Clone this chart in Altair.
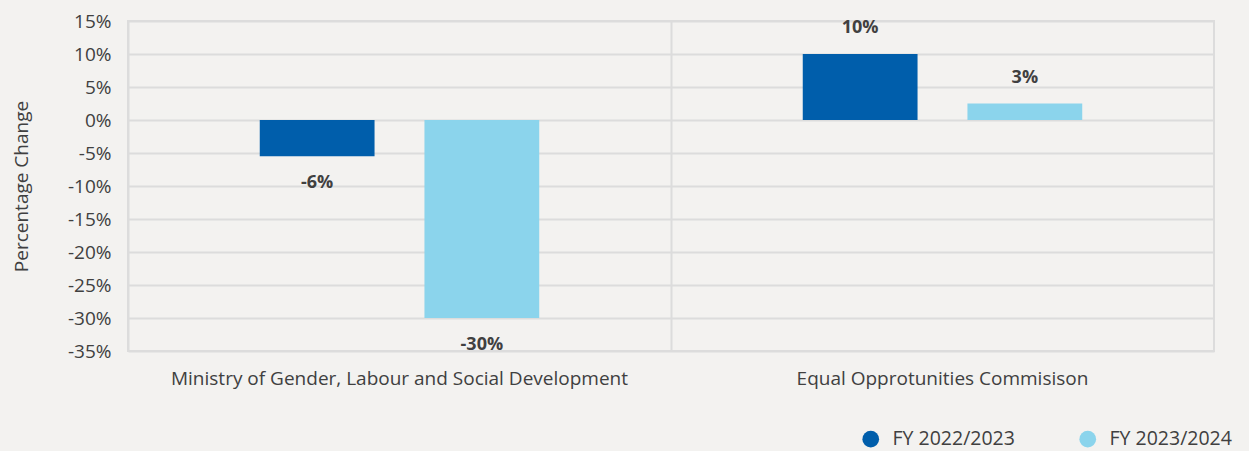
import altair as alt
import pandas as pd

categories = ["Ministry of Gender, Labour and Social Development", "Equal Opprotunities Commisison"]
series = ["FY 2022/2023", "FY 2023/2024"]
fy2223 = [-5.5, 10.0]
fy2324 = [-30.0, 2.5]
labels_2223 = ["-6%", "10%"]
labels_2324 = ["-30%", "3%"]
colors = ["#005EAB", "#8BD4EC"]

rows = []
for i, c in enumerate(categories):
    rows.append({"cat": c, "series": series[0], "value": fy2223[i], "label": labels_2223[i]})
    rows.append({"cat": c, "series": series[1], "value": fy2324[i], "label": labels_2324[i]})
df = pd.DataFrame(rows)

FONT = "Open Sans"
TXT = "#404040"

x = alt.X("cat:N", sort=categories, title=None,
          scale=alt.Scale(paddingInner=0, paddingOuter=0),
          axis=alt.Axis(labelAngle=0, labelFontSize=19, labelColor=TXT, labelFont=FONT,
                        labelPadding=18, ticks=False, domain=False,
                        grid=True, gridColor="#dcdcdc", gridWidth=2, bandPosition=0,
                        labelLimit=700))
xoff = alt.XOffset("series:N", sort=series,
                   scale=alt.Scale(paddingInner=0.303, paddingOuter=0.8))
y = alt.Y("value:Q", title="Percentage Change",
          scale=alt.Scale(domain=[-35, 15], nice=False),
          axis=alt.Axis(values=list(range(-35, 20, 5)), labelExpr="datum.value + '%'",
                        labelOverlap=False, tickCount=11,
                        labelFontSize=19, labelColor=TXT, labelFont=FONT, labelPadding=17,
                        ticks=False, domain=False, gridColor="#dcdcdc", gridWidth=2,
                        titleFont=FONT, titleFontSize=19, titleFontWeight="normal",
                        titleColor=TXT, titlePadding=36))

color = alt.Color("series:N", sort=series,
                  scale=alt.Scale(domain=series, range=colors),
                  legend=alt.Legend(title=None, orient="none", direction="horizontal",
                                    legendX=733, legendY=408, symbolType="circle",
                                    symbolSize=280, labelFontSize=19.5, labelColor=TXT,
                                    labelFont=FONT, columnPadding=63, symbolOpacity=1,
                                    labelOffset=12, labelLimit=300, padding=0))

base = alt.Chart(df)
bars = base.mark_bar(stroke=None).encode(x=x, xOffset=xoff, y=y, color=color)

txt_kw = dict(fontSize=18, fontWeight="bold", color=TXT, font=FONT, baseline="middle")
pos = base.transform_filter("datum.value >= 0").mark_text(dy=-26, **txt_kw).encode(
    x=x, xOffset=xoff, y=y, text="label:N")
neg = base.transform_filter("datum.value < 0").mark_text(dy=27, **txt_kw).encode(
    x=x, xOffset=xoff, y=y, text="label:N")

chart = alt.layer(bars, pos, neg).properties(
    width=1086, height=330,
    background="#F3F2F0",
    autosize=alt.AutoSizeParams(type="none"),
    padding={"left": 128, "top": 21, "right": 35, "bottom": 100},
).configure_view(stroke="#dcdcdc", strokeWidth=2)

chart.save("out.html", embed_options={"renderer": "svg", "actions": False})
